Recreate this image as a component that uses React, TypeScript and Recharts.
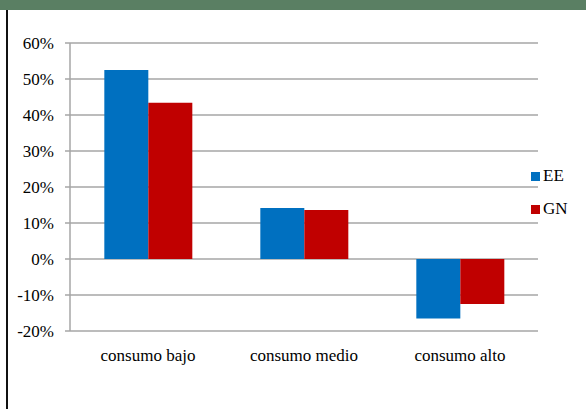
import React from 'react';
import { BarChart, Bar, XAxis, YAxis, CartesianGrid, Legend } from 'recharts';

const categories = ['consumo bajo', 'consumo medio', 'consumo alto'];
const eeValues = [52.5, 14.2, -16.5];
const gnValues = [43.4, 13.6, -12.5];
const yTicks = [-20, -10, 0, 10, 20, 30, 40, 50, 60];

const data = categories.map((name, i) => ({ name, EE: eeValues[i], GN: gnValues[i] }));

const FONT = "'Liberation Serif', 'Times New Roman', Times, serif";

const XTick = (props: any) => {
  const { x, y, payload } = props;
  return (
    <text x={x} y={y} dy={14} textAnchor="middle" fill="#000" style={{ fontFamily: FONT, fontSize: 17 }}>
      {payload.value}
    </text>
  );
};

const YTick = (props: any) => {
  const { x, y, payload } = props;
  return (
    <text x={x} y={y} dy={6} textAnchor="end" fill="#000" style={{ fontFamily: FONT, fontSize: 17 }}>
      {`${payload.value}%`}
    </text>
  );
};

const renderLegend = (props: any) => {
  const items = props.payload || [];
  return (
    <div style={{ fontFamily: FONT, fontSize: 17, color: '#000' }}>
      {items.map((it: any, i: number) => (
        <div key={i} style={{ display: 'flex', alignItems: 'center', height: 18, marginBottom: i === 0 ? 15 : 0 }}>
          <span style={{ display: 'inline-block', width: 9, height: 9, background: it.color, marginRight: 3 }} />
          <span>{it.value}</span>
        </div>
      ))}
    </div>
  );
};

export default function App() {
  return (
    <div style={{ position: 'absolute', left: 0, top: 0, width: 586, height: 409, background: '#fff', overflow: 'hidden' }}>
      <div style={{ position: 'absolute', left: 0, top: 0, width: 586, height: 10, background: '#5a7f63' }} />
      <div style={{ position: 'absolute', left: 6, top: 10, width: 2, height: 399, background: '#111' }} />
      <div style={{ position: 'absolute', left: 0, top: 0 }}>
        <BarChart
          width={586}
          height={409}
          data={data}
          margin={{ top: 43, right: 48, bottom: 48, left: 0 }}
          barCategoryGap="22%"
          barGap={0}
        >
          <CartesianGrid vertical={false} stroke="#a6a6a6" strokeWidth={1.5} />
          <XAxis
            dataKey="name"
            height={30}
            axisLine={false}
            tickLine={false}
            tickSize={0}
            tickMargin={16}
            tick={<XTick />}
          />
          <YAxis
            width={70}
            domain={[-20, 60]}
            ticks={yTicks}
            interval={0}
            axisLine={{ stroke: '#a6a6a6', strokeWidth: 1.5 }}
            tickLine={{ stroke: '#a6a6a6', strokeWidth: 1.5 }}
            tickSize={5}
            tickMargin={11}
            tick={<YTick />}
          />
          <Legend
            layout="vertical"
            align="center"
            verticalAlign="middle"
            content={renderLegend}
            wrapperStyle={{ left: 531, top: 167, width: 50 }}
          />
          <Bar dataKey="EE" fill="#0070c0" isAnimationActive={false} />
          <Bar dataKey="GN" fill="#c00000" isAnimationActive={false} />
        </BarChart>
      </div>
    </div>
  );
}
